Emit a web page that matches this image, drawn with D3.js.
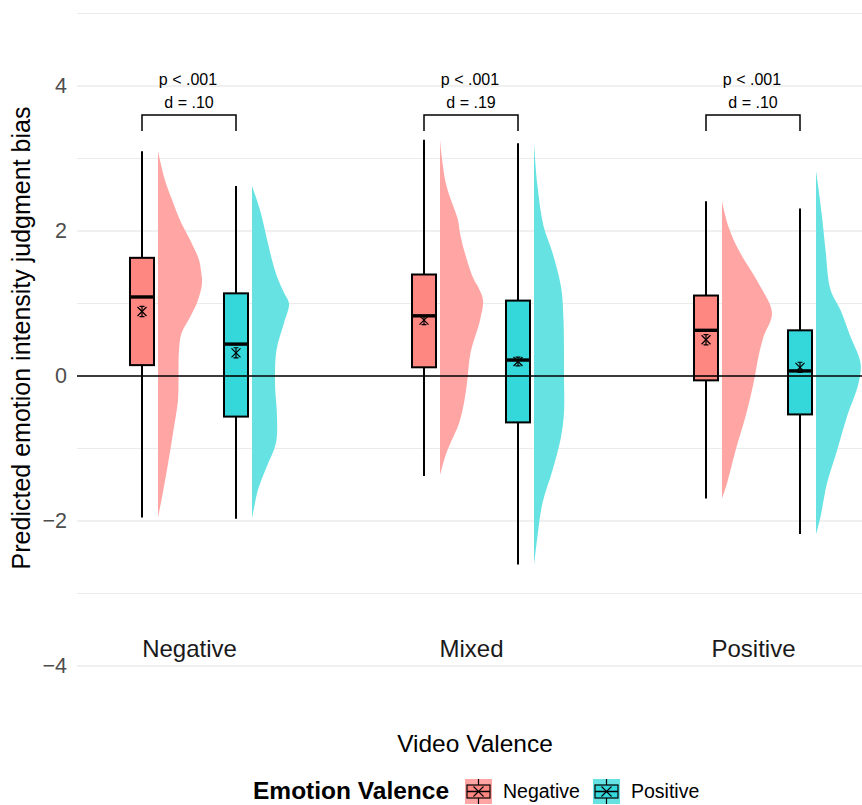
<!DOCTYPE html>
<html>
<head>
<meta charset="utf-8">
<script src="https://cdn.jsdelivr.net/npm/d3@7"></script>
<style>
  body { margin: 0; background: #fff; }
  svg { display: block; font-family: "Liberation Sans", Arial, sans-serif; }
</style>
</head>
<body>
<svg id="chart" width="862" height="805"></svg>
<script>
// ---------------- DATA ----------------
const groups = ["Negative", "Mixed", "Positive"];          // video valence
const emotions = ["Negative", "Positive"];                 // emotion valence
const yTicks = [-4, -2, 0, 2, 4];
const yMinor = [-3, -1, 1, 3, 5];

// box statistics, ordered [group][emotion]
const whiskerHigh = [[3.10, 2.62], [3.26, 3.21], [2.41, 2.31]];
const q3          = [[1.63, 1.14], [1.40, 1.04], [1.11, 0.63]];
const medians     = [[1.09, 0.44], [0.83, 0.22], [0.63, 0.07]];
const q1          = [[0.15, -0.56], [0.12, -0.64], [-0.06, -0.53]];
const whiskerLow  = [[-1.95, -1.97], [-1.38, -2.60], [-1.69, -2.18]];
const means       = [[0.89, 0.32], [0.77, 0.20], [0.50, 0.12]];
const meanSE      = [[0.07, 0.07], [0.06, 0.06], [0.07, 0.07]];

// half-violin densities: [value, relative density]
const densNegNeg = [[3.10,0],[2.70,0.14],[2.43,0.28],[2.15,0.44],[1.88,0.64],[1.60,0.82],[1.45,0.86],[1.28,0.88],[1.05,0.80],[0.81,0.64],[0.59,0.47],[0.36,0.42],[0.10,0.41],[-0.10,0.41],[-0.33,0.40],[-0.79,0.30],[-1.25,0.19],[-1.71,0.07],[-1.95,0]];
const densNegPos = [[2.62,0],[2.29,0.16],[1.83,0.32],[1.60,0.40],[1.37,0.50],[1.15,0.64],[1.00,0.74],[0.73,0.64],[0.36,0.49],[-0.10,0.46],[-0.56,0.50],[-0.92,0.48],[-1.26,0.29],[-1.57,0.12],[-1.97,0]];
const densMixNeg = [[3.26,0],[3.05,0.03],[2.62,0.13],[2.15,0.36],[1.97,0.40],[1.69,0.50],[1.36,0.66],[1.23,0.76],[1.05,0.86],[0.77,0.80],[0.32,0.61],[-0.15,0.53],[-0.61,0.40],[-1.06,0.13],[-1.37,0]];
const densMixPos = [[3.21,0],[2.62,0.07],[2.07,0.19],[1.70,0.37],[1.23,0.54],[0.77,0.59],[0.00,0.60],[-0.50,0.60],[-0.84,0.54],[-1.30,0.37],[-1.75,0.17],[-2.21,0.07],[-2.61,0]];
const densPosNeg = [[2.41,0],[2.06,0.13],[1.74,0.33],[1.28,0.73],[0.87,1.00],[0.54,0.83],[0.27,0.73],[-0.10,0.63],[-0.56,0.47],[-1.03,0.27],[-1.48,0.10],[-1.69,0]];
const densPosPos = [[2.83,0],[2.63,0.04],[2.20,0.12],[1.74,0.19],[1.19,0.29],[0.91,0.49],[0.54,0.69],[0.18,0.89],[-0.10,0.85],[-0.56,0.62],[-1.03,0.42],[-1.48,0.22],[-1.94,0.09],[-2.18,0]];
const densities = [[densNegNeg, densNegPos], [densMixNeg, densMixPos], [densPosNeg, densPosPos]];

// significance annotations per group
const pLabels = ["p < .001", "p < .001", "p < .001"];
const dLabels = ["d = .10", "d = .19", "d = .10"];
const bracketLevel = 3.6;

const yTitle = "Predicted emotion intensity judgment bias";
const xTitle = "Video Valence";
const legendTitle = "Emotion Valence";

// ---------------- STYLE ----------------
const boxFill = ["#FF8782", "#35D8DA"];
const densFill = ["#FFA5A3", "#66E2E2"];
const FONT = "Liberation Sans, Arial, sans-serif";

// ---------------- DRAW ----------------
const svg = d3.select("#chart");
const panelLeft = 77, panelRight = 862;

const y = d3.scaleLinear().domain([-4, 4]).range([666, 86]);
const x = d3.scalePoint().domain(groups).range([189, 753]);
const dodge = d3.scalePoint().domain(emotions).range([-47, 47]);
const densW = d3.scaleLinear().domain([0, 1]).range([0, 50]);
const boxHalf = 12, densOffset = 16;

// grid
svg.append("g").selectAll("line").data(yMinor).join("line")
  .attr("x1", panelLeft).attr("x2", panelRight)
  .attr("y1", d => y(d)).attr("y2", d => y(d))
  .attr("stroke", "#EBEBEB").attr("stroke-width", 1);
svg.append("g").selectAll("line").data(yTicks).join("line")
  .attr("x1", panelLeft).attr("x2", panelRight)
  .attr("y1", d => y(d)).attr("y2", d => y(d))
  .attr("stroke", "#EBEBEB").attr("stroke-width", 1.3);

// y axis labels
const yAxis = d3.axisLeft(y).tickValues(yTicks).tickSize(0).tickPadding(0)
  .tickFormat(d => d < 0 ? "\u2212" + Math.abs(d) : String(d));
const yg = svg.append("g").attr("transform", `translate(${67},0)`).call(yAxis);
yg.select(".domain").remove();
yg.selectAll("text").attr("font-size", 21.5).attr("fill", "#4D4D4D")
  .attr("font-family", FONT);

// category labels (x axis)
const xAxis = d3.axisBottom(x).tickSize(0).tickPadding(0);
const xg = svg.append("g").attr("transform", `translate(0,${640})`).call(xAxis);
xg.select(".domain").remove();
xg.selectAll("text").attr("font-size", 24).attr("fill", "#1A1A1A")
  .attr("font-family", FONT);

// titles
svg.append("text").attr("x", 475).attr("y", 752).attr("text-anchor", "middle")
  .attr("font-size", 24.5).attr("fill", "#000").text(xTitle);
svg.append("text").attr("transform", "translate(30,338) rotate(-90)")
  .attr("text-anchor", "middle").attr("font-size", 25).attr("fill", "#000").text(yTitle);

// densities and boxes
const area = d3.area()
  .y(d => y(d[0]))
  .curve(d3.curveCatmullRom.alpha(0.5));

groups.forEach((g, gi) => {
  emotions.forEach((e, ei) => {
    const cx = x(g) + dodge(e);
    const x0 = cx + densOffset;
    svg.append("path")
      .datum(densities[gi][ei])
      .attr("d", area.x0(x0).x1(d => x0 + densW(d[1])))
      .attr("fill", densFill[ei]);
  });
});

// zero line
svg.append("line").attr("x1", panelLeft).attr("x2", panelRight)
  .attr("y1", y(0)).attr("y2", y(0)).attr("stroke", "#000").attr("stroke-width", 1.6);

groups.forEach((g, gi) => {
  emotions.forEach((e, ei) => {
    const cx = x(g) + dodge(e);
    const gr = svg.append("g");
    // whiskers
    gr.append("line").attr("x1", cx).attr("x2", cx)
      .attr("y1", y(whiskerHigh[gi][ei])).attr("y2", y(q3[gi][ei]))
      .attr("stroke", "#000").attr("stroke-width", 2);
    gr.append("line").attr("x1", cx).attr("x2", cx)
      .attr("y1", y(q1[gi][ei])).attr("y2", y(whiskerLow[gi][ei]))
      .attr("stroke", "#000").attr("stroke-width", 2);
    // box
    gr.append("rect").attr("x", cx - boxHalf).attr("width", boxHalf * 2)
      .attr("y", y(q3[gi][ei])).attr("height", y(q1[gi][ei]) - y(q3[gi][ei]))
      .attr("fill", boxFill[ei]).attr("stroke", "#000").attr("stroke-width", 2);
    // zero line passes over boxes
    gr.append("line").attr("x1", cx - boxHalf).attr("x2", cx + boxHalf)
      .attr("y1", y(0)).attr("y2", y(0)).attr("stroke", "#000").attr("stroke-width", 1.6)
      .attr("opacity", (q1[gi][ei] < 0 && q3[gi][ei] > 0) ? 1 : 0);
    // median
    gr.append("line").attr("x1", cx - boxHalf).attr("x2", cx + boxHalf)
      .attr("y1", y(medians[gi][ei])).attr("y2", y(medians[gi][ei]))
      .attr("stroke", "#000").attr("stroke-width", 3.4);
    // mean marker: cross + error bar
    const my = y(means[gi][ei]);
    const s = 4.5;
    gr.append("path")
      .attr("d", `M${cx - s},${my - s}L${cx + s},${my + s}M${cx - s},${my + s}L${cx + s},${my - s}`)
      .attr("stroke", "#000").attr("stroke-width", 1.2).attr("fill", "none");
    const eTop = y(means[gi][ei] + meanSE[gi][ei]), eBot = y(means[gi][ei] - meanSE[gi][ei]);
    gr.append("path")
      .attr("d", `M${cx},${eTop}L${cx},${eBot}M${cx - 2.5},${eTop}L${cx + 2.5},${eTop}M${cx - 2.5},${eBot}L${cx + 2.5},${eBot}`)
      .attr("stroke", "#000").attr("stroke-width", 1.2).attr("fill", "none");
  });

  // significance bracket
  const xl = x(g) + dodge(emotions[0]), xr = x(g) + dodge(emotions[1]);
  const by = y(bracketLevel);
  svg.append("path")
    .attr("d", `M${xl},${by + 16}L${xl},${by}L${xr},${by}L${xr},${by + 16}`)
    .attr("fill", "none").attr("stroke", "#000").attr("stroke-width", 1.5);
  svg.append("text").attr("x", x(g) - 1).attr("y", by - 30.5).attr("text-anchor", "middle")
    .attr("font-size", 16).attr("fill", "#000").text(pLabels[gi]);
  svg.append("text").attr("x", x(g)).attr("y", by - 7.5).attr("text-anchor", "middle")
    .attr("font-size", 16).attr("fill", "#000").text(dLabels[gi]);
});

// legend
const lg = svg.append("g");
lg.append("text").attr("x", 253).attr("y", 799).attr("font-size", 24.5)
  .attr("font-weight", "bold").attr("fill", "#000").text(legendTitle);
const keyX = [465, 593];
const labX = [503, 631];
emotions.forEach((e, ei) => {
  const kx = keyX[ei], ky = 779;
  lg.append("rect").attr("x", kx).attr("y", ky).attr("width", 27).attr("height", 25)
    .attr("fill", densFill[ei]);
  const cx = kx + 13.5;
  lg.append("line").attr("x1", cx).attr("x2", cx).attr("y1", ky).attr("y2", ky + 25)
    .attr("stroke", "#000").attr("stroke-width", 1.2);
  lg.append("rect").attr("x", kx + 2).attr("y", ky + 6).attr("width", 23).attr("height", 13)
    .attr("fill", boxFill[ei]).attr("stroke", "#000").attr("stroke-width", 1.2);
  lg.append("line").attr("x1", kx + 2).attr("x2", kx + 25).attr("y1", ky + 12.5).attr("y2", ky + 12.5)
    .attr("stroke", "#000").attr("stroke-width", 1.5);
  lg.append("path")
    .attr("d", `M${cx - 5},${ky + 7.5}L${cx + 5},${ky + 17.5}M${cx - 5},${ky + 17.5}L${cx + 5},${ky + 7.5}`)
    .attr("stroke", "#000").attr("stroke-width", 1.1);
  lg.append("text").attr("x", labX[ei]).attr("y", 798).attr("font-size", 19.5)
    .attr("fill", "#000").text(e);
});
</script>
</body>
</html>
